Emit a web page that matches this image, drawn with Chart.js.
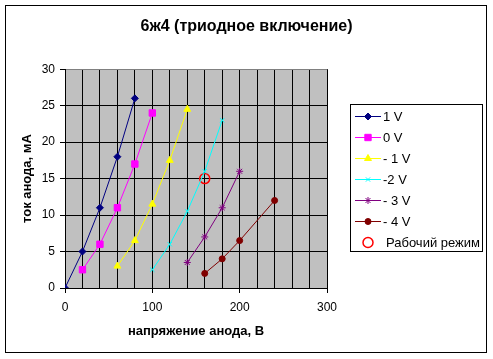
<!DOCTYPE html>
<html>
<head>
<meta charset="utf-8">
<script src="https://cdn.jsdelivr.net/npm/chart.js@4/dist/chart.umd.min.js"></script>
<style>
    html, body { margin: 0; padding: 0; background: #ffffff; }
    canvas { display: block; }
</style>
</head>
<body>
<canvas id="triodeChart" width="493" height="359"></canvas>
<script>

// anode voltage (V) and anode current (mA) per grid voltage
const seriesLabels = ["1 V", "0 V", "- 1 V", "-2 V", "- 3 V", "- 4 V"];

const voltage1V = [0, 20, 40, 60, 80];
const current1V = [0, 5, 11, 18, 26];

const voltage0V = [20, 40, 60, 80, 100];
const current0V = [2.5, 6, 11, 17, 24];

const voltageMinus1V = [60, 80, 100, 120, 140];
const currentMinus1V = [3, 6.5, 11.5, 17.5, 24.5];

const voltageMinus2V = [100, 120, 140, 160, 180];
const currentMinus2V = [2.5, 6, 10.5, 16, 23];

const voltageMinus3V = [140, 160, 180, 200];
const currentMinus3V = [3.5, 7, 11, 16];

const voltageMinus4V = [160, 180, 200, 240];
const currentMinus4V = [2, 4, 6.5, 12];

const workPointLabel = "Рабочий режим";
const workPointVoltage = [160];
const workPointCurrent = [15];

const xTickLabels = [0, 100, 200, 300];

const FONT = "'Liberation Sans', Arial, sans-serif";

function points(xs, ys) {

    return xs.map((x, i) => ({ x: x, y: ys[i] }));

}

const seriesStyles = [
    { color: "#000080", pointStyle: "rectRot", radius: 3.5 },
    { color: "#FF00FF", pointStyle: "rect", radius: 4.5 },
    { color: "#FFFF00", pointStyle: "triangle", radius: 4 },
    { color: "#00FFFF", pointStyle: "crossRot", radius: 3 },
    { color: "#800080", pointStyle: "star", radius: 3.5 },
    { color: "#800000", pointStyle: "circle", radius: 3 }
];

const seriesData = [
    points(voltage1V, current1V),
    points(voltage0V, current0V),
    points(voltageMinus1V, currentMinus1V),
    points(voltageMinus2V, currentMinus2V),
    points(voltageMinus3V, currentMinus3V),
    points(voltageMinus4V, currentMinus4V)
];

const datasets = seriesData.map((data, i) => ({

    label: seriesLabels[i],
    data: data,
    showLine: true,
    borderColor: seriesStyles[i].color,
    backgroundColor: seriesStyles[i].color,
    borderWidth: 1,
    pointStyle: seriesStyles[i].pointStyle,
    pointRadius: seriesStyles[i].radius,
    pointBorderWidth: 1,
    pointBorderColor: seriesStyles[i].color,
    pointBackgroundColor: seriesStyles[i].color

}));

datasets.push({

    label: workPointLabel,
    data: points(workPointVoltage, workPointCurrent),
    showLine: false,
    pointStyle: "circle",
    pointRadius: 5,
    pointBorderWidth: 1.5,
    pointBorderColor: "#FF0000",
    pointBackgroundColor: "rgba(0,0,0,0)"

});

function drawMarker(ctx, style, radius, x, y, borderWidth) {

    const opts = { pointStyle: style, radius: radius, rotation: 0, borderWidth: borderWidth };

    if (Chart.helpers && Chart.helpers.drawPoint) {
        Chart.helpers.drawPoint(ctx, opts, x, y);
        return;
    }

    ctx.beginPath();
    ctx.arc(x, y, radius, 0, Math.PI * 2);
    ctx.fill();
    ctx.stroke();

}

const frameAndLegend = {

    id: "frameAndLegend",

    beforeDraw(chart) {

        const { ctx, chartArea } = chart;

        ctx.save();
        ctx.fillStyle = "#ffffff";
        ctx.fillRect(0, 0, chart.width, chart.height);
        ctx.fillStyle = "#C0C0C0";
        ctx.fillRect(chartArea.left, chartArea.top,
            chartArea.right - chartArea.left, chartArea.bottom - chartArea.top);
        ctx.restore();

    },

    afterDraw(chart) {

        const ctx = chart.ctx;

        ctx.save();

        // outer frame
        ctx.strokeStyle = "#000000";
        ctx.lineWidth = 1;
        ctx.strokeRect(5.5, 5.5, 481, 347);

        // legend box
        ctx.strokeRect(350.5, 104.5, 132, 147);

        ctx.font = "13px " + FONT;
        ctx.textBaseline = "middle";
        ctx.textAlign = "left";

        chart.data.datasets.forEach((ds, i) => {

            const y = 116 + i * 21;

            if (ds.showLine) {
                ctx.strokeStyle = ds.borderColor;
                ctx.lineWidth = 1;
                ctx.beginPath();
                ctx.moveTo(355, y + 0.5);
                ctx.lineTo(381, y + 0.5);
                ctx.stroke();
            }

            ctx.strokeStyle = ds.pointBorderColor;
            ctx.fillStyle = ds.pointBackgroundColor;
            ctx.lineWidth = ds.pointBorderWidth;
            drawMarker(ctx, ds.pointStyle, ds.pointRadius, 368, y + 0.5, ds.pointBorderWidth);

            ctx.fillStyle = "#000000";
            ctx.fillText(ds.label, ds.showLine ? 383 : 386, y + 1);

        });

        ctx.restore();

    }

};

new Chart(

    document.getElementById("triodeChart"),

    {

        type: "scatter",

        data: { datasets: datasets },

        plugins: [frameAndLegend],

        options: {

            responsive: false,
            animation: false,
            devicePixelRatio: 1,

            layout: {
                padding: { left: 0, right: 0, top: 0, bottom: 0 }
            },

            plugins: {

                legend: { display: false },
                tooltip: { enabled: false },

                title: {
                    display: true,
                    text: "6ж4 (триодное включение)",
                    color: "#000000",
                    font: { family: FONT, size: 16, weight: "bold" },
                    padding: { top: 17, bottom: 33 }
                }

            },

            scales: {

                x: {

                    type: "linear",
                    min: 0,
                    max: 300,

                    afterFit: scale => { scale.height = 71; },

                    ticks: {
                        stepSize: 20,
                        autoSkip: false,
                        maxRotation: 0,
                        padding: 7,
                        color: "#000000",
                        font: { family: FONT, size: 12 },
                        callback: v => xTickLabels.includes(v) ? String(v) : ""
                    },

                    grid: {
                        color: "#000000",
                        lineWidth: 1,
                        tickLength: 5,
                        tickColor: c => c.tick && xTickLabels.includes(c.tick.value)
                            ? "#000000" : "rgba(0,0,0,0)"
                    },

                    border: { color: "#000000", width: 1 },

                    title: {
                        display: true,
                        text: "напряжение анода, В",
                        color: "#000000",
                        font: { family: FONT, size: 13, weight: "bold" },
                        padding: { top: 0, bottom: 20 }
                    }

                },

                y: {

                    min: 0,
                    max: 30,

                    afterFit: scale => { scale.width = 65; },

                    ticks: {
                        stepSize: 5,
                        padding: 5,
                        color: "#000000",
                        font: { family: FONT, size: 12 }
                    },

                    grid: {
                        color: c => c.tick && c.tick.value === 30 ? "#808080" : "#000000",
                        lineWidth: 1,
                        tickLength: 5,
                        tickColor: "#000000"
                    },

                    border: { color: "#000000", width: 1 },

                    title: {
                        display: true,
                        text: "ток анода, мА",
                        color: "#000000",
                        font: { family: FONT, size: 13, weight: "bold" },
                        padding: { top: 20, bottom: 0 }
                    }

                },

                // empty right-hand axis that keeps room for the legend box
                legendSpace: {

                    type: "linear",
                    position: "right",
                    display: true,
                    afterFit: scale => { scale.width = 166; },
                    ticks: { display: false },
                    grid: { display: false, drawTicks: false },
                    border: { display: false }

                }

            }

        }

    }

);

</script>
</body>
</html>
